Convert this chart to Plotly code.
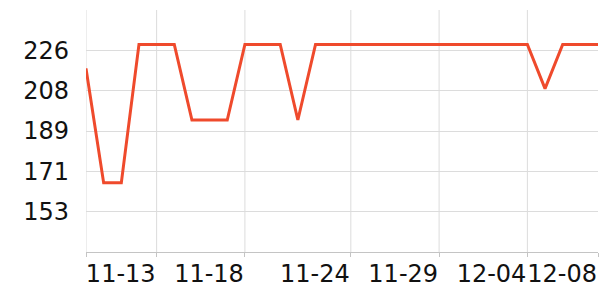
import plotly.graph_objects as go
import pandas as pd

dates = pd.date_range("2023-11-09", "2023-12-08", freq="D").strftime("%Y-%m-%d").tolist()
values = [217.8, 165.7, 165.7, 228.7, 228.7, 228.7, 194.3, 194.3, 194.3, 228.7,
          228.7, 228.7, 194.3, 228.7, 228.7, 228.7, 228.7, 228.7, 228.7, 228.7,
          228.7, 228.7, 228.7, 228.7, 228.7, 228.7, 208.6, 228.7, 228.7, 228.7]

x_tick_vals = ["2023-11-09", "2023-11-13", "2023-11-18", "2023-11-24", "2023-11-29", "2023-12-04", "2023-12-08"]
x_tick_text = ["", "11-13", "11-18", "11-24", "11-29", "12-04", "12-08"]
y_tick_vals = [152.6, 170.95, 189.3, 207.65, 226.0]
y_tick_text = ["153", "171", "189", "208", "226"]
y_range = [134.25, 244.35]

fig = go.Figure()

# vertical grid lines (all ticks except the last one, which sits on the plot edge)
for xv in x_tick_vals[:-1]:
    fig.add_shape(type="line", xref="x", yref="paper", x0=xv, x1=xv, y0=0, y1=1,
                  line=dict(color="#dcdcdc", width=1), layer="below")

fig.add_trace(go.Scatter(x=dates, y=values, mode="lines",
                         line=dict(color="#ef4a2c", width=3), hoverinfo="skip"))

fig.update_layout(
    width=600, height=300,
    margin=dict(l=86, r=2, t=10, b=48),
    paper_bgcolor="white", plot_bgcolor="white",
    showlegend=False,
    font=dict(family="DejaVu Sans", size=24, color="#111111"),
)
fig.update_xaxes(
    type="date", range=[dates[0], dates[-1]],
    tickmode="array", tickvals=x_tick_vals, ticktext=x_tick_text,
    ticklabelposition="outside left", tickangle=0,
    ticklabeloverflow="allow",
    showgrid=False,
    showline=True, linecolor="#c4c4c4", linewidth=1,
    ticks="outside", ticklen=4, tickcolor="#c4c4c4",
    zeroline=False,
)
fig.update_yaxes(
    range=y_range, tickmode="array", tickvals=y_tick_vals, ticktext=y_tick_text,
    showgrid=True, gridcolor="#dcdcdc", gridwidth=1,
    showline=False, ticks="", zeroline=False,
    ticklabelstandoff=16,
)
fig.write_html("out.html")
